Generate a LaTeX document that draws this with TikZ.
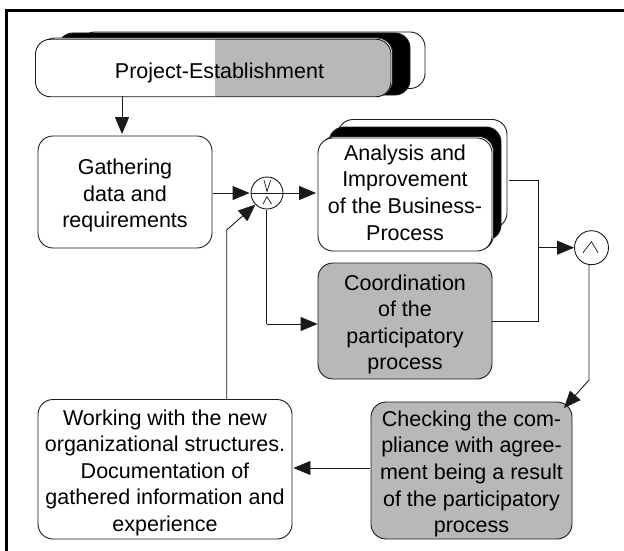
\documentclass[tikz,border=0pt]{standalone}
\usepackage{fontspec}
\setmainfont{Liberation Sans}
\usetikzlibrary{arrows.meta,calc}
\definecolor{boxgray}{HTML}{B8B8B8}
\definecolor{ink}{HTML}{1A1A1A}
\tikzset{
  x=1pt,y=-1pt,
  box/.style={draw=ink,line width=0.9pt,rounded corners=15pt,inner sep=0pt,fill=white,align=center,
    font=\fontsize{21.5}{26.6}\selectfont},
  graybox/.style={box,fill=boxgray},
  blackbox/.style={box,fill=black},
  conn/.style={draw=ink,line width=0.9pt},
  arr/.style={conn,-{Triangle[length=17pt,width=14pt]}},
  gate/.style={circle,draw=ink,line width=0.9pt,fill=white,minimum size=32pt,inner sep=0pt},
  sym/.style={draw=ink,line width=0.7pt},
  frameline/.style={draw=black,line width=3.4pt},
}
\newcommand{\lowertext}{\rule{0pt}{22.5pt}}
\newcommand{\raisetext}{\rule[-4pt]{0pt}{0pt}}
% #1 name, #2 style, #3 left, #4 top, #5 right, #6 bottom, #7 text
\newcommand{\rbox}[7]{%
  \pgfmathsetmacro{\bw}{#5-#3}\pgfmathsetmacro{\bh}{#6-#4}%
  \pgfmathsetmacro{\bx}{(#3+#5)/2}\pgfmathsetmacro{\by}{(#4+#6)/2}%
  \node[#2,minimum width=\bw pt,minimum height=\bh pt] (#1) at (\bx,\by) {#7};}
\begin{document}
\begin{tikzpicture}
\useasboundingbox (0,0) rectangle (624,551);
\fill[white] (0,0) rectangle (624,551);
% frame, open to the right and the bottom of the page
\coordinate (fa) at (6.5,551);
\coordinate (fb) at (6.5,10.7);
\coordinate (fc) at (624,10.7);
\draw[frameline] (fa) -- (fb) -- (fc);
% Project-Establishment stack
\rbox{projb}{box}{80}{32}{425}{88.5}{}
\rbox{projk}{blackbox}{58}{33}{410}{95}{}
\rbox{projw}{box}{40}{38}{392.5}{96}{}
\node[box,minimum width=355.5pt,minimum height=57.5pt,
  path picture={\fill[boxgray,sharp corners] ([xshift=179.5pt]path picture bounding box.south west) rectangle (path picture bounding box.north east);}]
  (proj) at (213.25,68) {};
\node[font=\fontsize{21.5}{26.6}\selectfont,inner sep=0pt] (projt) at (219.5,72.5) {Project-Establishment};
% Gathering
\rbox{gather}{box}{38}{136}{212}{248}{\lowertext Gathering\\data and\\requirements}
% Analysis stack
\rbox{anb}{box}{338}{119.5}{507}{228}{}
\rbox{ank}{blackbox}{329}{127}{501}{240}{}
\rbox{anw}{box}{320}{136.5}{493.5}{250}{}
\rbox{an}{box}{318}{138}{492}{251}{Analysis and\\Improvement\\of the Business-\\Process\raisetext}
% Coordination
\rbox{coord}{graybox}{318}{263}{492}{379}{\lowertext Coordination\\of the\\participatory\\process}
% Checking
\rbox{check}{graybox}{371}{402}{572}{539}{\lowertext Checking the com-\\pliance with agree-\\ment being a result\\of the participatory\\process}
% Working
\rbox{work}{box}{38}{399.5}{292}{539}{\lowertext Working with the new\\organizational structures.\\Documentation of\\gathered information and\\experience}
% Gates
\node[gate] (orgate) at (267,193) {};
\node[gate,minimum size=34pt] (andgate) at (591.5,247.7) {};
\draw[sym] (orgate.west) -- (orgate.east);
\draw[sym] ($(orgate)+(-3,-13)$) -- ($(orgate)+(0,-1.5)$) -- ($(orgate)+(3.7,-13)$);
\draw[sym] ($(orgate)+(-4,11)$) -- ($(orgate)+(0,3.7)$) -- ($(orgate)+(4.5,11)$);
\draw[sym] ($(andgate)+(-8.5,5)$) -- ($(andgate)+(0,-6)$) -- ($(andgate)+(6.5,5)$);
% Connectors
\coordinate (p1) at (122,96);
\draw[arr,shorten >=1.5pt] (p1) -- (gather.north -| p1);
\draw[arr,shorten <=1pt,shorten >=1pt] (gather.east |- orgate.west) -- (orgate.west);
\draw[arr,shorten >=1.5pt] (orgate.east) -- (an.west |- orgate.east);
\coordinate (a1) at (538,180);
\draw[conn,shorten <=2pt] (anb.east |- a1) -- (a1) -- (a1 |- coord.east) -- (coord.east);
\coordinate (a2) at (538,247.7);
\draw[arr] (a2) -- (andgate.west);
\coordinate (c1) at (589,380);
\draw[arr] (andgate.south -| c1) -- (c1) -- ($(check.north east)+(-8.5,6.5)$);
\draw[arr,shorten <=1pt,shorten >=1pt] (check.west |- 0,468) -- (work.east |- 0,468);
\coordinate (w1) at (226.7,230);
\draw[arr] (work.north -| w1) -- (w1) -- (orgate.south west);
\coordinate (o1) at (266.7,324);
\draw[conn,shorten <=1pt] (orgate.south -| o1) -- (o1);
\draw[arr] (o1) -- (coord.west |- o1);
\end{tikzpicture}
\end{document}
